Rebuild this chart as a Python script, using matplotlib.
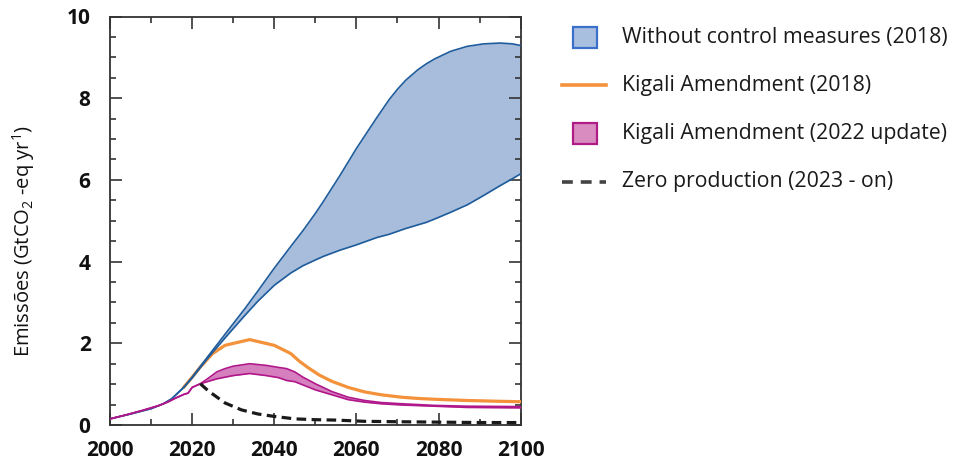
import matplotlib
matplotlib.use("Agg")
import matplotlib.pyplot as plt
from matplotlib.patches import Rectangle
from matplotlib.lines import Line2D
from matplotlib.ticker import MultipleLocator

plt.rcParams['font.family'] = ['Open Sans', 'DejaVu Sans']
plt.rcParams['mathtext.fontset'] = 'custom'
plt.rcParams['mathtext.rm'] = 'Open Sans'
plt.rcParams['mathtext.it'] = 'Open Sans'

# ---- data (GtCO2-eq per year) ----
years_blue = [2000, 2005, 2010, 2013, 2015, 2018, 2020, 2024, 2028, 2030, 2033, 2036,
              2040, 2044, 2047, 2050, 2052, 2056, 2060, 2065, 2068, 2070, 2072, 2075,
              2077, 2079, 2083, 2087, 2091, 2095, 2098, 2100]
blue_hi = [0.15, 0.27, 0.40, 0.52, 0.64, 0.93, 1.17, 1.70, 2.22, 2.48, 2.87, 3.28,
           3.84, 4.37, 4.76, 5.18, 5.48, 6.11, 6.77, 7.53, 7.97, 8.22, 8.44, 8.70,
           8.84, 8.96, 9.15, 9.27, 9.33, 9.35, 9.33, 9.29]
blue_lo = [0.15, 0.27, 0.40, 0.52, 0.64, 0.92, 1.15, 1.66, 2.13, 2.36, 2.70, 3.03,
           3.42, 3.72, 3.90, 4.04, 4.13, 4.28, 4.41, 4.59, 4.67, 4.74, 4.81, 4.90,
           4.96, 5.04, 5.21, 5.39, 5.62, 5.86, 6.03, 6.15]

years_orange = [2018, 2020, 2022, 2025, 2028, 2031, 2034, 2037, 2040, 2044, 2046, 2048,
                2051, 2054, 2058, 2062, 2066, 2071, 2075, 2079, 2087, 2095, 2100]
orange = [0.93, 1.17, 1.42, 1.75, 1.95, 2.02, 2.09, 2.02, 1.95, 1.75, 1.57, 1.42,
          1.22, 1.07, 0.92, 0.81, 0.74, 0.68, 0.65, 0.63, 0.60, 0.58, 0.57]

years_mag = [2000, 2004, 2008, 2012, 2014, 2016, 2018, 2019, 2020, 2022, 2024, 2026,
             2028, 2030, 2034, 2038, 2041, 2043, 2045, 2047, 2050, 2054, 2058, 2062,
             2066, 2071, 2079, 2087, 2100]
mag_hi = [0.15, 0.25, 0.36, 0.48, 0.56, 0.66, 0.75, 0.78, 0.92, 1.01, 1.15, 1.30,
          1.38, 1.44, 1.50, 1.46, 1.41, 1.38, 1.30, 1.17, 1.01, 0.82, 0.68, 0.60,
          0.55, 0.52, 0.48, 0.46, 0.45]
mag_lo = [0.15, 0.25, 0.36, 0.48, 0.56, 0.66, 0.75, 0.78, 0.92, 1.01, 1.07, 1.13,
          1.17, 1.21, 1.26, 1.21, 1.16, 1.09, 1.06, 0.98, 0.86, 0.74, 0.62, 0.56,
          0.52, 0.49, 0.46, 0.43, 0.42]

years_zero = [2022, 2024, 2028, 2032, 2036, 2040, 2045, 2050, 2055, 2062, 2070, 2080,
              2090, 2100]
zero_prod = [1.01, 0.83, 0.54, 0.37, 0.27, 0.21, 0.15, 0.13, 0.12, 0.09, 0.08, 0.07,
             0.06, 0.06]

legend_labels = ["Without control measures (2018)", "Kigali Amendment (2018)",
                 "Kigali Amendment (2022 update)", "Zero production (2023 - on)"]
x_ticks = [2000, 2020, 2040, 2060, 2080, 2100]
y_ticks = [0, 2, 4, 6, 8, 10]
ylabel = "Emissões (GtCO$_{2}$ -eq yr$^{1}$)"

# ---- colours ----
BLUE_FILL = "#a7bddb"
BLUE_EDGE = "#1f5c9c"
ORANGE = "#f3923a"
MAG_LINE = "#b0178a"
MAG_FILL = "#d67fbe"

W, H = 954, 466
fig = plt.figure(figsize=(W / 100, H / 100), dpi=100)
ax = fig.add_axes([110 / W, 1 - 425 / H, (520.7 - 110) / W, (425 - 16.5) / H])

ax.fill_between(years_blue, blue_lo, blue_hi, color=BLUE_FILL, lw=0, zorder=1)
ax.plot(years_blue, blue_hi, color=BLUE_EDGE, lw=1.2, zorder=4)
ax.plot(years_blue, blue_lo, color=BLUE_EDGE, lw=1.2, zorder=4)
ax.plot(years_orange, orange, color=ORANGE, lw=2.3, zorder=3, solid_joinstyle='round')
ax.fill_between(years_mag, mag_lo, mag_hi, color=MAG_FILL, lw=0, zorder=5)
ax.plot(years_mag, mag_hi, color=MAG_LINE, lw=1.2, zorder=6)
ax.plot(years_mag, mag_lo, color=MAG_LINE, lw=1.2, zorder=6)
ax.plot(years_zero, zero_prod, color="#1a1a1a", lw=2.3, ls=(0, (3, 1.7)), zorder=7)

ax.set_xlim(2000, 2100)
ax.set_ylim(0, 10)
ax.set_xticks(x_ticks)
ax.set_yticks(y_ticks)
ax.xaxis.set_minor_locator(MultipleLocator(10))
ax.yaxis.set_minor_locator(MultipleLocator(0.5))
ax.tick_params(which='both', direction='in', top=True, right=True, color='#333333', width=1.2)
ax.tick_params(which='major', length=8.5)
ax.tick_params(which='minor', length=4.5)
ax.tick_params(axis='x', which='major', pad=11, labelsize=15, labelcolor='#111111')
ax.tick_params(axis='y', which='major', pad=14, labelsize=15, labelcolor='#111111')
for lab in ax.get_xticklabels() + ax.get_yticklabels():
    lab.set_fontweight('bold')
for sp in ax.spines.values():
    sp.set_color('#333333')
    sp.set_linewidth(1.3)

fig.text(24 / W, 1 - 241 / H, ylabel, rotation=90, ha='center', va='center',
         fontsize=14.5, color='#111111')

# ---- legend (drawn in figure pixel space) ----
rows_y = [37, 85, 133, 182]
text_x = 622
def fx(px):
    return px / W
def fy(py):
    return 1 - py / H

fig.patches.append(Rectangle((fx(573), fy(48)), 24 / W, 21 / H, transform=fig.transFigure,
                             facecolor="#a8bfdf", edgecolor="#3c6fcb", lw=1.6))
fig.lines.append(Line2D([fx(562), fx(606)], [fy(rows_y[1])] * 2, transform=fig.transFigure,
                        color=ORANGE, lw=2.6))
fig.patches.append(Rectangle((fx(573), fy(144)), 24 / W, 21 / H, transform=fig.transFigure,
                             facecolor="#d98cc0", edgecolor="#b01c85", lw=1.6))
fig.lines.append(Line2D([fx(562), fx(606)], [fy(rows_y[3])] * 2, transform=fig.transFigure,
                        color="#444444", lw=2.6, ls=(0, (3, 2.2))))
for lab, ry in zip(legend_labels, rows_y):
    fig.text(fx(text_x), fy(ry), lab, ha='left', va='center', fontsize=15.3, color='#1a1a1a')

fig.savefig("out.png", dpi=100)
